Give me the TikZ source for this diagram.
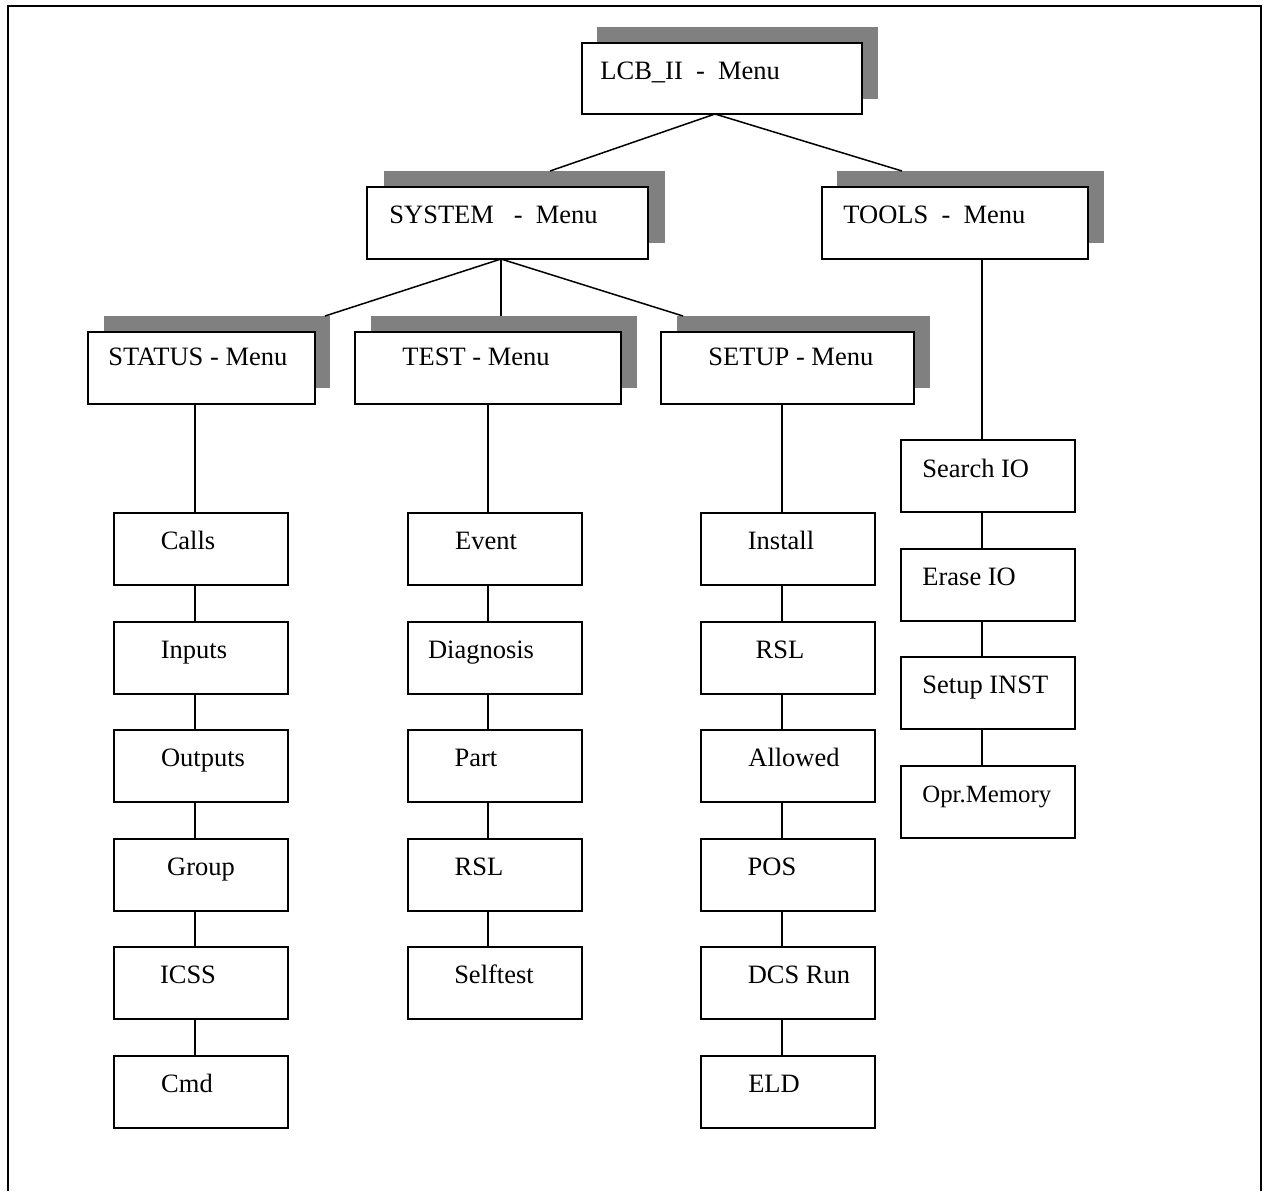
\documentclass[tikz,border=0pt]{standalone}
\usepackage{fontspec}
\setmainfont{Liberation Serif}
\definecolor{shadowgray}{HTML}{808080}
\begin{document}
\begin{tikzpicture}[x=0.5pt,y=-0.5pt,
  box/.style={draw, line width=1pt, fill=white, inner sep=0pt, minimum height=36pt},
  leafbox/.style={box, minimum width=87pt},
  shade/.style={fill=shadowgray, inner sep=0pt, minimum height=36pt},
  lbl/.style={inner sep=0pt, anchor=base, font=\fontsize{13.25}{16}\selectfont},
  lbll/.style={lbl, anchor=base west},
  conn/.style={line width=0.75pt},
  frame/.style={line width=1pt}]
\useasboundingbox (0,0) rectangle (1264,1191);
% outer frame
\coordinate (fa) at (8,1191);
\coordinate (fb) at (8,6);
\coordinate (fc) at (1261,6);
\coordinate (fd) at (1261,1191);
\draw[frame] (fa) -- (fb) -- (fc) -- (fd);

% menu shadows and boxes
\node[shade, minimum width=140.5pt] (lcbS) at (737.5,63) {};
\node[box, minimum width=140pt, minimum height=35.5pt] (lcb) at (722,78.5) {};
\node[lbll] (lcbT) at (600,79) {LCB\_II\ \ -\ \ Menu};

\node[shade, minimum width=140.5pt] (sysS) at (524.5,207) {};
\node[box, minimum width=140.5pt] (sys) at (507.5,223) {};
\node[lbll] (sysT) at (389,223) {SYSTEM\ \ \ -\ \ Menu};

\node[shade, minimum width=133.5pt] (toolsS) at (970.5,207) {};
\node[box, minimum width=133pt] (tools) at (955,223) {};
\node[lbll] (toolsT) at (843,223) {TOOLS\ \ -\ \ Menu};

\node[shade, minimum width=113pt] (statS) at (217,352) {};
\node[box, minimum width=113.5pt] (stat) at (201.5,368) {};
\node[lbll] (statT) at (108,365) {STATUS - Menu};

\node[shade, minimum width=133pt] (testS) at (504,352) {};
\node[box, minimum width=133pt] (test) at (488,368) {};
\node[lbll] (testT) at (402,365) {TEST - Menu};

\node[shade, minimum width=126.5pt] (setS) at (803.5,352) {};
\node[box, minimum width=126.5pt] (set) at (787.5,368) {};
\node[lbll] (setT) at (708,365) {SETUP - Menu};

% STATUS column
\node[leafbox] (calls) at (201,549) {};
\node[lbl] (callsT) at (188,549.5) {Calls};
\node[leafbox] (inputs) at (201,657.5) {};
\node[lbl] (inputsT) at (194,658) {Inputs};
\node[leafbox] (outputs) at (201,766) {};
\node[lbl] (outputsT) at (203,766.5) {Outputs};
\node[leafbox] (group) at (201,874.5) {};
\node[lbl] (groupT) at (201,875) {Group};
\node[leafbox] (icss) at (201,983) {};
\node[lbl] (icssT) at (188,983.5) {ICSS};
\node[leafbox] (cmd) at (201,1091.5) {};
\node[lbl] (cmdT) at (187,1092) {Cmd};

% TEST column
\node[leafbox] (event) at (494.5,549) {};
\node[lbl] (eventT) at (486,549.5) {Event};
\node[leafbox] (diag) at (494.5,657.5) {};
\node[lbl] (diagT) at (481,658) {Diagnosis};
\node[leafbox] (part) at (494.5,766) {};
\node[lbl] (partT) at (476,766.5) {Part};
\node[leafbox] (trsl) at (494.5,874.5) {};
\node[lbl] (trslT) at (479,875) {RSL};
\node[leafbox] (self) at (494.5,983) {};
\node[lbl] (selfT) at (494,983.5) {Selftest};

% SETUP column
\node[leafbox] (install) at (788,549) {};
\node[lbl] (installT) at (781,549.5) {Install};
\node[leafbox] (srsl) at (788,657.5) {};
\node[lbl] (srslT) at (780,658) {RSL};
\node[leafbox] (allowed) at (788,766) {};
\node[lbl] (allowedT) at (794,766.5) {Allowed};
\node[leafbox] (pos) at (788,874.5) {};
\node[lbl] (posT) at (772,875) {POS};
\node[leafbox] (dcs) at (788,983) {};
\node[lbl] (dcsT) at (799,983.5) {DCS Run};
\node[leafbox] (eld) at (788,1091.5) {};
\node[lbl] (eldT) at (774,1092) {ELD};

% TOOLS column
\node[leafbox] (search) at (988,476) {};
\node[lbll] (searchT) at (922,477) {Search IO};
\node[leafbox] (erase) at (988,585) {};
\node[lbll] (eraseT) at (922,585.5) {Erase IO};
\node[leafbox] (setinst) at (988,693) {};
\node[lbll] (setinstT) at (922,693.5) {Setup INST};
\node[leafbox] (opr) at (988,802) {};
\node[lbll, font=\fontsize{12.4}{15}\selectfont] (oprT) at (922,802.5) {Opr.Memory};

% junction coordinates
\coordinate (lcbJ) at (715,114);
\coordinate (sysE) at (550,171);
\coordinate (toolsE) at (902,171);
\coordinate (sysJ) at (501,259);
\coordinate (statE) at (325,316);
\coordinate (testE) at (501,316);
\coordinate (setE) at (683,316);
\coordinate (toolsJ) at (982,259);
\coordinate (statJ) at (195,404);
\coordinate (testJ) at (488,404);
\coordinate (setJ) at (782,404);

% connectors
\draw[conn] (lcbJ) -- (sysE);
\draw[conn] (lcbJ) -- (toolsE);
\draw[conn] (sysJ) -- (statE);
\draw[conn] (sysJ) -- (testE);
\draw[conn] (sysJ) -- (setE);
\draw[conn] (toolsJ) -- (toolsJ |- search.north);
\draw[conn] (statJ) -- (statJ |- calls.north);
\draw[conn] (testJ) -- (testJ |- event.north);
\draw[conn] (setJ) -- (setJ |- install.north);
\foreach \a/\b in {calls/inputs, inputs/outputs, outputs/group, group/icss, icss/cmd}
  \draw[conn] (statJ |- \a.south) -- (statJ |- \b.north);
\foreach \a/\b in {event/diag, diag/part, part/trsl, trsl/self}
  \draw[conn] (testJ |- \a.south) -- (testJ |- \b.north);
\foreach \a/\b in {install/srsl, srsl/allowed, allowed/pos, pos/dcs, dcs/eld}
  \draw[conn] (setJ |- \a.south) -- (setJ |- \b.north);
\foreach \a/\b in {search/erase, erase/setinst, setinst/opr}
  \draw[conn] (toolsJ |- \a.south) -- (toolsJ |- \b.north);
\end{tikzpicture}
\end{document}
